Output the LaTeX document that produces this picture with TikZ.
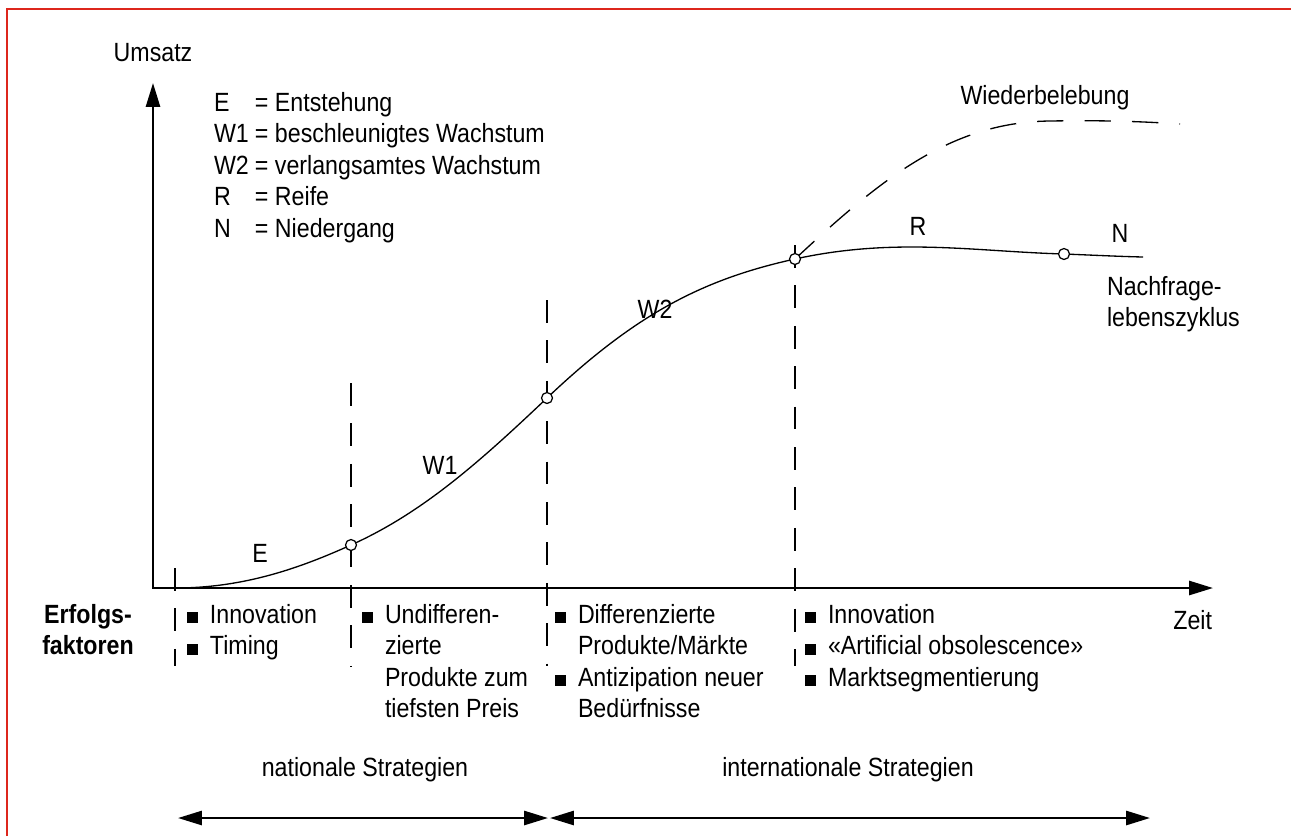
\documentclass[tikz,border=0pt]{standalone}
\usepackage{fontspec}
\setmainfont{Liberation Sans}[FakeStretch=0.88]
\usetikzlibrary{arrows.meta}
\definecolor{framered}{RGB}{221,38,28}
\newcommand\bul{\makebox[0.46cm][l]{\rule{0.22cm}{0.22cm}}}
\newcommand\ind{\hspace*{0.46cm}}
\newcommand\lkey[1]{\makebox[0.82cm][l]{#1}}
\begin{document}
\begin{tikzpicture}[x=0.02cm,y=-0.02cm,
  every node/.style={inner sep=0pt, outer sep=0pt, font=\fontsize{15}{18}\selectfont},
  axis/.style={line width=1.4pt, {Triangle[length=13.6pt,width=8pt]}-{Triangle[length=13.6pt,width=8pt]}},
  phase/.style={line width=1.1pt, dash pattern=on 13pt off 10pt},
  lifecurve/.style={line width=0.75pt},
  revival/.style={line width=0.75pt, dash pattern=on 15pt off 12pt},
  pointdot/.style={circle, draw, fill=white, line width=0.7pt, minimum size=0.22cm},
  strat/.style={line width=1.4pt, {Triangle[length=13.6pt,width=8pt]}-{Triangle[length=13.6pt,width=8pt]}},
  lbl/.style={anchor=base},
  col/.style={anchor=base west}
]
\useasboundingbox (0,0) rectangle (1291,836);
% frame
\draw[framered, line width=1.3pt] (7,836) -- (7,9) -- (1291,9);
% axes
\coordinate (ytop) at (153,83);
\coordinate (O) at (153,588);
\coordinate (xend) at (1213,588);
\draw[axis] (ytop) -- (O) -- (xend);
% phase lines
\coordinate (a1) at (175,568); \coordinate (a2) at (175,666);
\coordinate (b1) at (351,383); \coordinate (b2) at (351,666);
\coordinate (c1) at (547,300); \coordinate (c2) at (547,666);
\coordinate (d1) at (795,245); \coordinate (d2) at (795,666);
\draw[phase] (a1) -- (a2);
\draw[phase] (b1) -- (b2);
\draw[phase] (c1) -- (c2);
\draw[phase] (d1) -- (d2);
% curve
\coordinate (q0) at (175,588);
\coordinate (q1) at (351,545);
\coordinate (q2) at (547,398);
\coordinate (q3) at (795,259);
\coordinate (q4) at (1064,254);
\coordinate (q5) at (1143,257);
\draw[lifecurve] (q0) .. controls (245,588) and (301,567.5) .. (q1)
  .. controls (421,513.5) and (477,464.5) .. (q2)
  .. controls (637,312.5) and (705,278.8) .. (q3)
  .. controls (895,237) and (975,251.5) .. (q4)
  .. controls (1090,255) and (1120,256.5) .. (q5);
\draw[revival] (q3) .. controls (880,180) and (950,122) .. (1050,121)
  .. controls (1110,120) and (1150,122) .. (1180,124);
\node[pointdot] (p1) at (q1) {};
\node[pointdot] (p2) at (q2) {};
\node[pointdot] (p3) at (q3) {};
\node[pointdot] (p4) at (q4) {};
% labels
\node[lbl] (umsatz) at (153,61) {Umsatz};
\node[col] (legend) at (214,111) {\begin{tabular}[t]{@{}l@{}}
\lkey{E}= Entstehung\\
\lkey{W1}= beschleunigtes Wachstum\\
\lkey{W2}= verlangsamtes Wachstum\\
\lkey{R}= Reife\\
\lkey{N}= Niedergang
\end{tabular}};
\node[lbl] (wieder) at (1045,104) {Wiederbelebung};
\node[lbl] (lE) at (260,562) {E};
\node[lbl] (lW1) at (440,474) {W1};
\node[lbl] (lW2) at (655,318) {W2};
\node[lbl] (lR) at (918,235) {R};
\node[lbl] (lN) at (1120,242) {N};
\node[col] (nachfrage) at (1107,295) {\begin{tabular}[t]{@{}l@{}}Nachfrage-\\lebenszyklus\end{tabular}};
\node[anchor=base east] (zeit) at (1212,629) {Zeit};
% success factors
\node[lbl, font=\fontsize{15}{18}\selectfont\bfseries] (erfolg) at (88,623) {\begin{tabular}[t]{@{}c@{}}Erfolgs-\\faktoren\end{tabular}};
\node[col] (f1) at (187,623) {\begin{tabular}[t]{@{}l@{}}\bul Innovation\\\bul Timing\end{tabular}};
\node[col] (f2) at (362,623) {\begin{tabular}[t]{@{}l@{}}\bul Undifferen-\\\ind zierte\\\ind Produkte zum\\\ind tiefsten Preis\end{tabular}};
\node[col] (f3) at (555,623) {\begin{tabular}[t]{@{}l@{}}\bul Differenzierte\\\ind Produkte/Märkte\\\bul Antizipation neuer\\\ind Bedürfnisse\end{tabular}};
\node[col] (f4) at (805,623) {\begin{tabular}[t]{@{}l@{}}\bul Innovation\\\bul «Artificial obsolescence»\\\bul Marktsegmentierung\end{tabular}};
% strategies
\coordinate (s1) at (178,818);
\coordinate (s2) at (548,818);
\coordinate (s3) at (550,818);
\coordinate (s4) at (1150,818);
\draw[strat] (s1) -- (s2);
\draw[strat] (s3) -- (s4);
\node[lbl] (nat) at (365,776) {nationale Strategien};
\node[lbl] (inat) at (848,776) {internationale Strategien};
\end{tikzpicture}
\end{document}
